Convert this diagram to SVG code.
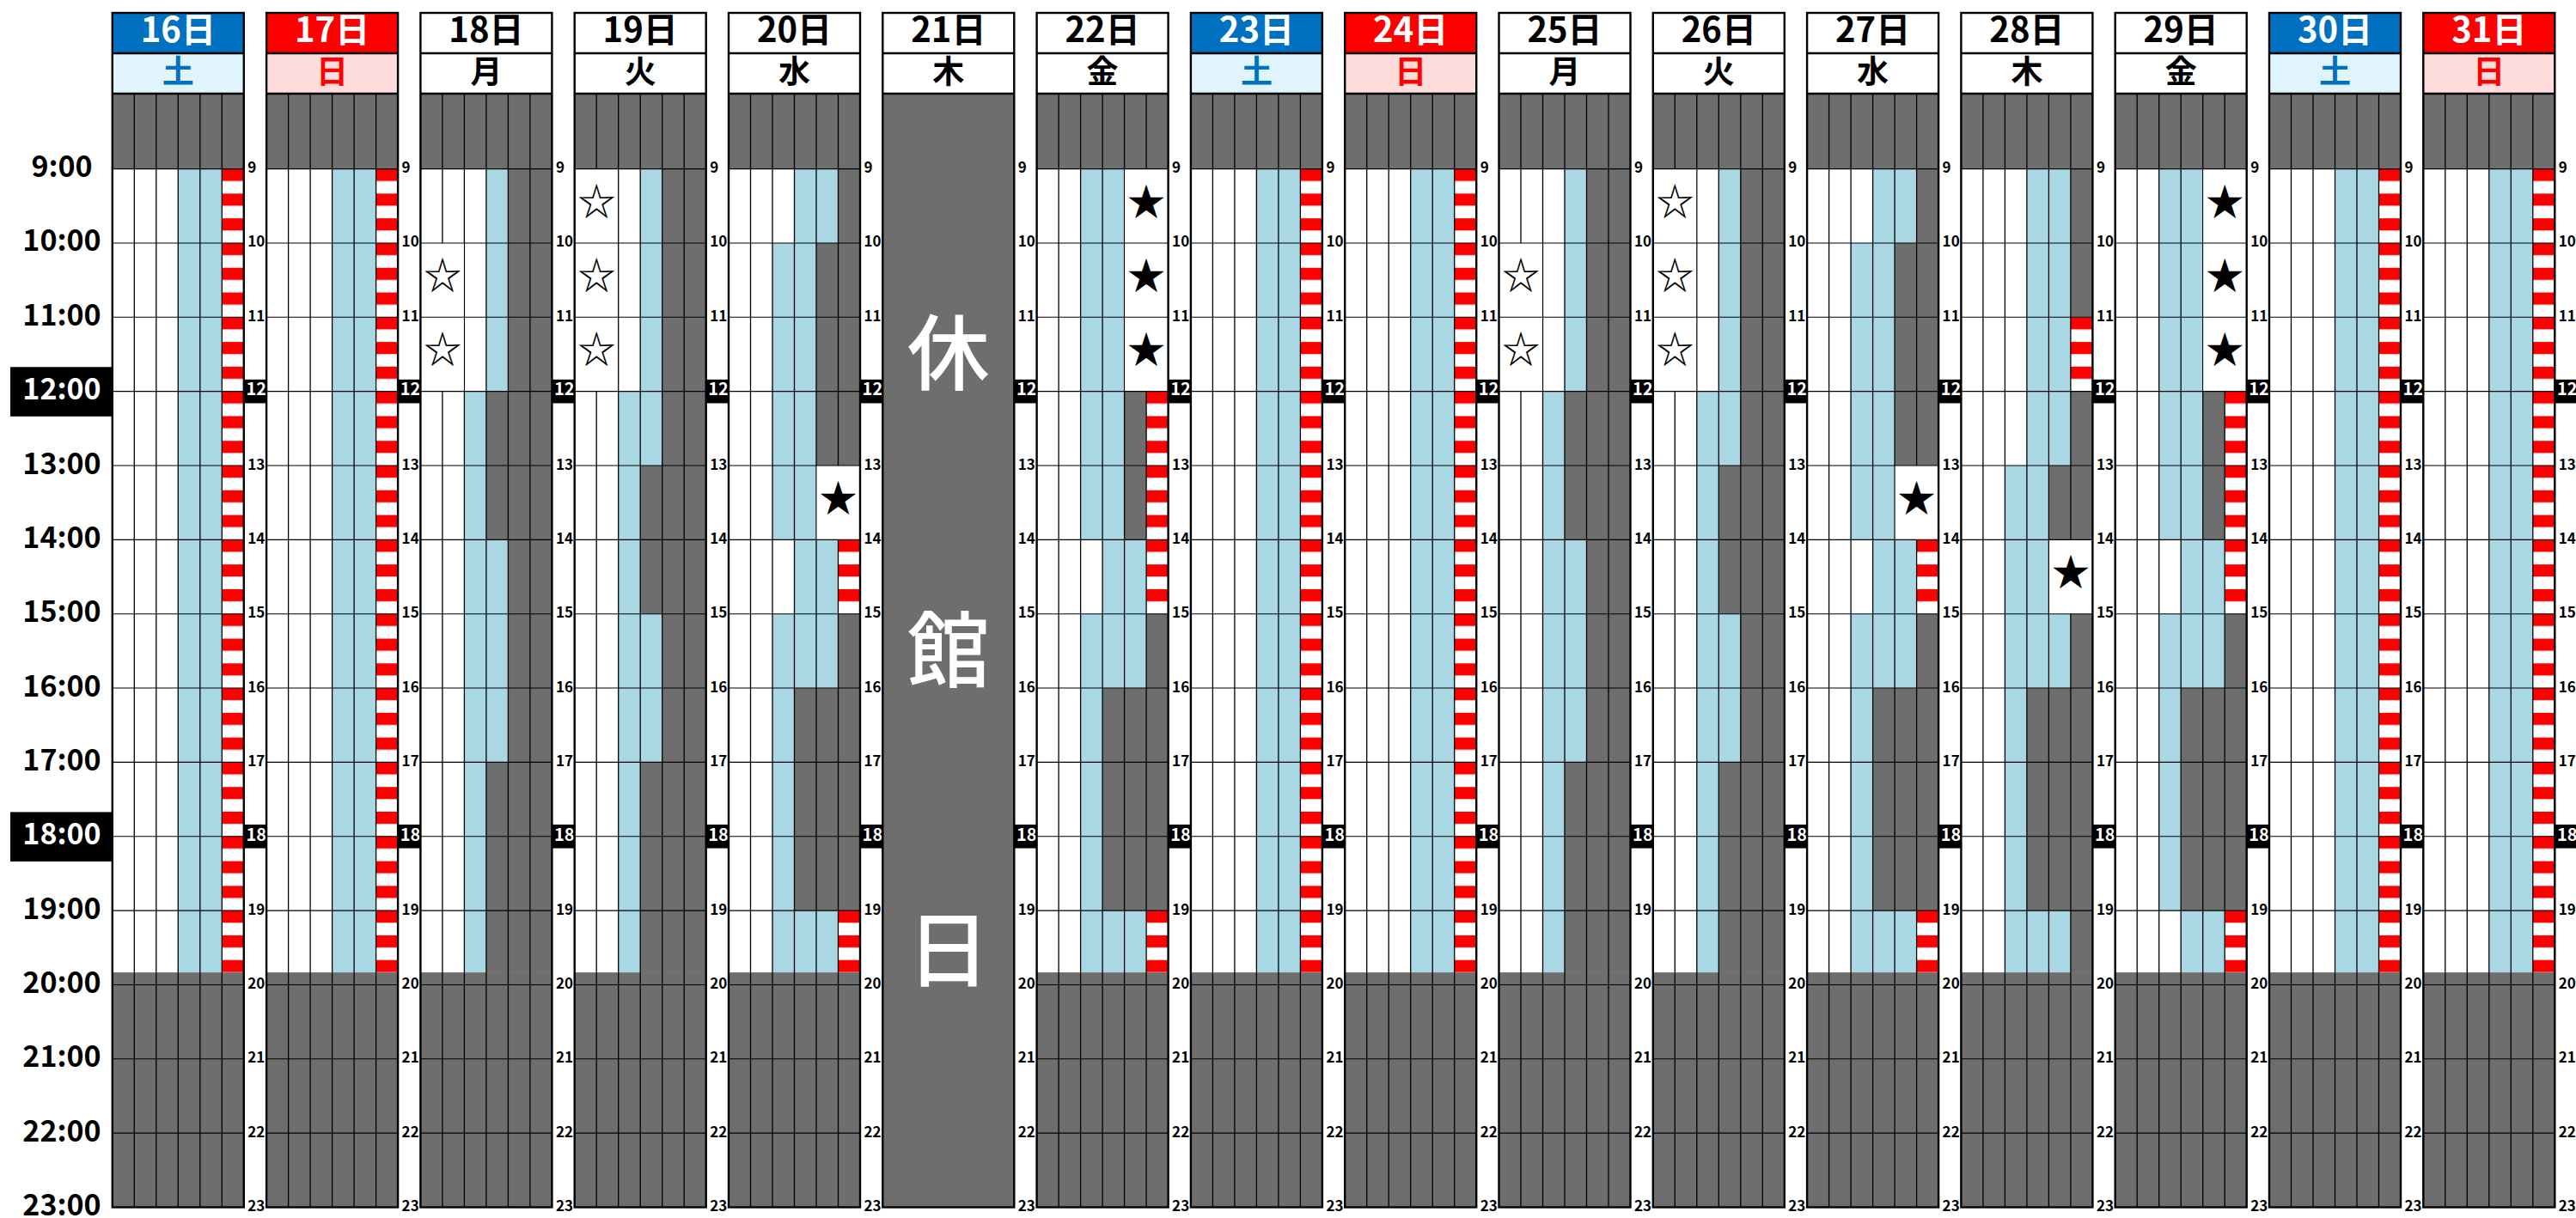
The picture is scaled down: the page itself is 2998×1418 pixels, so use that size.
<svg xmlns="http://www.w3.org/2000/svg" width="2998" height="1418" viewBox="0 0 2998 1418">
<style>
text{font-family:"Noto Sans CJK JP","Noto Sans",sans-serif}
.g{fill:#6e6e6e}.w{fill:#fff}.lb{fill:#a9d8e4}.sp{fill:url(#st)}
.vl{stroke:#000;stroke-width:1.3;fill:none}
.hl{stroke:#000;stroke-width:1.1;fill:none}
.fr{fill:none;stroke:#000;stroke-width:2.4}
.hd{font-size:40px;font-weight:700;text-anchor:middle}
.wd{font-size:37px;font-weight:700;text-anchor:middle}
.n{font-size:17px;font-weight:700;fill:#000}
.n .nb{font-size:20px;fill:#fff}
.t{font-size:34px;font-weight:700;text-anchor:middle;fill:#000}
.t .wt{fill:#fff}
.s{font-size:44px;text-anchor:middle;fill:#000}
.k{font-size:96px;font-weight:500;fill:#fff;text-anchor:middle}
.satB{fill:#0070c0}.satL{fill:#dff4fd}.sunB{fill:#ff0000}.sunL{fill:#ffdcdc}
</style>
<defs>
<pattern id="st" patternUnits="userSpaceOnUse" x="0" y="196.6" width="40" height="28.784">
<rect x="0" y="0" width="40" height="14.392" fill="#ff0000"/>
<rect x="0" y="14.392" width="40" height="14.392" fill="#ffffff"/>
</pattern>
<g id="base">
<rect class="g" x="0" y="109" width="153" height="1296.5"/>
<rect class="w" x="0" y="196.6" width="153" height="935.46"/>
</g>
<path id="vlines" class="vl" d="M25.5 109V1405.5M51 109V1405.5M76.5 109V1405.5M102 109V1405.5M127.5 109V1405.5"/>
<path id="hlines" class="hl" d="M0 196.6H153M0 282.95H153M0 369.3H153M0 455.65H153M0 542H153M0 628.35H153M0 714.7H153M0 801.05H153M0 887.4H153M0 973.75H153M0 1060.1H153M0 1146.45H153M0 1232.8H153M0 1319.15H153"/>
<g id="frame">
<rect class="fr" x="0" y="15" width="153" height="1390.5"/>
<path class="fr" d="M0 62H153M0 109H153"/>
</g>
<g id="bx">
<rect x="153" y="441.85" width="26.3" height="27.6" fill="#000"/>
<rect x="153" y="959.95" width="26.3" height="27.6" fill="#000"/>
</g>
<g id="cA">
<rect class="lb" x="76.5" y="196.6" width="51" height="935.46"/>
<rect class="sp" x="127.5" y="196.6" width="25.5" height="935.46"/>
</g>
<g id="cB">
<rect class="lb" x="76.5" y="196.6" width="25.5" height="259.05"/>
<rect class="lb" x="51" y="455.65" width="25.5" height="676.41"/>
<rect class="lb" x="76.5" y="628.35" width="25.5" height="259.05"/>
<rect class="g" x="102" y="196.6" width="51" height="935.46"/>
<rect class="g" x="76.5" y="455.65" width="25.5" height="172.7"/>
<rect class="g" x="76.5" y="887.4" width="25.5" height="244.66"/>
</g>
<rect id="rB" class="w" x="0.7" y="282.95" width="49.6" height="172.7"/>
<g id="cC">
<rect class="lb" x="76.5" y="196.6" width="25.5" height="345.4"/>
<rect class="lb" x="51" y="455.65" width="25.5" height="676.41"/>
<rect class="lb" x="76.5" y="714.7" width="25.5" height="172.7"/>
<rect class="g" x="102" y="196.6" width="51" height="935.46"/>
<rect class="g" x="76.5" y="542" width="25.5" height="172.7"/>
<rect class="g" x="76.5" y="887.4" width="25.5" height="244.66"/>
</g>
<rect id="rC" class="w" x="0.7" y="196.6" width="49.6" height="259.05"/>
<g id="cD">
<rect class="lb" x="76.5" y="196.6" width="51" height="86.35"/>
<rect class="g" x="127.5" y="196.6" width="25.5" height="86.35"/>
<rect class="lb" x="51" y="282.95" width="51" height="345.4"/>
<rect class="g" x="102" y="282.95" width="51" height="259.05"/>
<rect class="lb" x="76.5" y="628.35" width="51" height="86.35"/>
<rect class="sp" x="127.5" y="628.35" width="25.5" height="86.35"/>
<rect class="lb" x="51" y="714.7" width="76.5" height="86.35"/>
<rect class="g" x="127.5" y="714.7" width="25.5" height="345.4"/>
<rect class="lb" x="51" y="801.05" width="25.5" height="259.05"/>
<rect class="g" x="76.5" y="801.05" width="51" height="259.05"/>
<rect class="lb" x="51" y="1060.1" width="76.5" height="71.96"/>
<rect class="sp" x="127.5" y="1060.1" width="25.5" height="71.96"/>
</g>
<rect id="rD" class="w" x="102.7" y="542" width="49.6" height="86.35"/>
<g id="cE">
<rect class="lb" x="51" y="196.6" width="51" height="431.75"/>
<rect class="g" x="102" y="455.65" width="25.5" height="172.7"/>
<rect class="sp" x="127.5" y="455.65" width="25.5" height="259.05"/>
<rect class="lb" x="76.5" y="628.35" width="51" height="86.35"/>
<rect class="lb" x="51" y="714.7" width="76.5" height="86.35"/>
<rect class="g" x="127.5" y="714.7" width="25.5" height="345.4"/>
<rect class="lb" x="51" y="801.05" width="25.5" height="259.05"/>
<rect class="g" x="76.5" y="801.05" width="51" height="259.05"/>
<rect class="sp" x="127.5" y="1060.1" width="25.5" height="71.96"/>
</g>
<rect id="rE" class="w" x="102.7" y="196.6" width="49.6" height="259.05"/>
</defs>
<rect x="0" y="0" width="2998" height="1418" fill="#fff"/>

<g id="times" class="t">
<text x="72" y="206.1">9:00</text>
<text x="72" y="292.45">10:00</text>
<text x="72" y="378.8">11:00</text>
<rect x="12" y="427.3" width="118.8" height="57.5" fill="#000"/>
<text class="wt" x="72" y="465.1">12:00</text>
<text x="72" y="551.5">13:00</text>
<text x="72" y="637.85">14:00</text>
<text x="72" y="724.2">15:00</text>
<text x="72" y="810.55">16:00</text>
<text x="72" y="896.9">17:00</text>
<rect x="12" y="945.4" width="118.8" height="57.5" fill="#000"/>
<text class="wt" x="72" y="983.2">18:00</text>
<text x="72" y="1069.6">19:00</text>
<text x="72" y="1155.95">20:00</text>
<text x="72" y="1242.3">21:00</text>
<text x="72" y="1328.65">22:00</text>
<text x="72" y="1415">23:00</text>
</g>

<g id="d16" transform="translate(130.8 0)">
<use href="#base"/><use href="#cA"/><use href="#vlines"/><use href="#hlines"/>
<rect class="satB" x="0" y="15" width="153" height="47"/><rect class="satL" x="0" y="62" width="153" height="47"/>
<text class="hd" x="76.5" y="49" fill="#fff">16日</text><text class="wd" x="76.5" y="96.5" fill="#0070c0">土</text>
<use href="#frame"/><use href="#bx"/>
<g class="n"><text x="157.5" y="201.1">9</text><text x="157.5" y="287.45">10</text><text x="157.5" y="373.8">11</text><text class="nb" x="155.6" y="460.4">12</text><text x="157.5" y="546.5">13</text><text x="157.5" y="632.85">14</text><text x="157.5" y="719.2">15</text><text x="157.5" y="805.55">16</text><text x="157.5" y="891.9">17</text><text class="nb" x="155.6" y="978.5">18</text><text x="157.5" y="1064.6">19</text><text x="157.5" y="1150.95">20</text><text x="157.5" y="1237.3">21</text><text x="157.5" y="1323.65">22</text><text x="157.5" y="1410">23</text></g>
</g>

<g id="d17" transform="translate(310.1 0)">
<use href="#base"/><use href="#cA"/><use href="#vlines"/><use href="#hlines"/>
<rect class="sunB" x="0" y="15" width="153" height="47"/><rect class="sunL" x="0" y="62" width="153" height="47"/>
<text class="hd" x="76.5" y="49" fill="#fff">17日</text><text class="wd" x="76.5" y="96.5" fill="#ff0000">日</text>
<use href="#frame"/><use href="#bx"/>
<g class="n"><text x="157.5" y="201.1">9</text><text x="157.5" y="287.45">10</text><text x="157.5" y="373.8">11</text><text class="nb" x="155.6" y="460.4">12</text><text x="157.5" y="546.5">13</text><text x="157.5" y="632.85">14</text><text x="157.5" y="719.2">15</text><text x="157.5" y="805.55">16</text><text x="157.5" y="891.9">17</text><text class="nb" x="155.6" y="978.5">18</text><text x="157.5" y="1064.6">19</text><text x="157.5" y="1150.95">20</text><text x="157.5" y="1237.3">21</text><text x="157.5" y="1323.65">22</text><text x="157.5" y="1410">23</text></g>
</g>

<g id="d18" transform="translate(489.4 0)">
<use href="#base"/><use href="#cB"/><use href="#vlines"/><use href="#rB"/><use href="#hlines"/>
<g class="s"><text x="25.5" y="336.8">☆</text><text x="25.5" y="423.2">☆</text></g>
<text class="hd" x="76.5" y="49">18日</text><text class="wd" x="76.5" y="96.5">月</text>
<use href="#frame"/><use href="#bx"/>
<g class="n"><text x="157.5" y="201.1">9</text><text x="157.5" y="287.45">10</text><text x="157.5" y="373.8">11</text><text class="nb" x="155.6" y="460.4">12</text><text x="157.5" y="546.5">13</text><text x="157.5" y="632.85">14</text><text x="157.5" y="719.2">15</text><text x="157.5" y="805.55">16</text><text x="157.5" y="891.9">17</text><text class="nb" x="155.6" y="978.5">18</text><text x="157.5" y="1064.6">19</text><text x="157.5" y="1150.95">20</text><text x="157.5" y="1237.3">21</text><text x="157.5" y="1323.65">22</text><text x="157.5" y="1410">23</text></g>
</g>

<g id="d19" transform="translate(668.7 0)">
<use href="#base"/><use href="#cC"/><use href="#vlines"/><use href="#rC"/><use href="#hlines"/>
<g class="s"><text x="25.5" y="250.5">☆</text><text x="25.5" y="336.8">☆</text><text x="25.5" y="423.2">☆</text></g>
<text class="hd" x="76.5" y="49">19日</text><text class="wd" x="76.5" y="96.5">火</text>
<use href="#frame"/><use href="#bx"/>
<g class="n"><text x="157.5" y="201.1">9</text><text x="157.5" y="287.45">10</text><text x="157.5" y="373.8">11</text><text class="nb" x="155.6" y="460.4">12</text><text x="157.5" y="546.5">13</text><text x="157.5" y="632.85">14</text><text x="157.5" y="719.2">15</text><text x="157.5" y="805.55">16</text><text x="157.5" y="891.9">17</text><text class="nb" x="155.6" y="978.5">18</text><text x="157.5" y="1064.6">19</text><text x="157.5" y="1150.95">20</text><text x="157.5" y="1237.3">21</text><text x="157.5" y="1323.65">22</text><text x="157.5" y="1410">23</text></g>
</g>

<g id="d20" transform="translate(848 0)">
<use href="#base"/><use href="#cD"/><use href="#vlines"/><use href="#rD"/><use href="#hlines"/>
<g class="s"><text x="127.5" y="595.9">★</text></g>
<text class="hd" x="76.5" y="49">20日</text><text class="wd" x="76.5" y="96.5">水</text>
<use href="#frame"/><use href="#bx"/>
<g class="n"><text x="157.5" y="201.1">9</text><text x="157.5" y="287.45">10</text><text x="157.5" y="373.8">11</text><text class="nb" x="155.6" y="460.4">12</text><text x="157.5" y="546.5">13</text><text x="157.5" y="632.85">14</text><text x="157.5" y="719.2">15</text><text x="157.5" y="805.55">16</text><text x="157.5" y="891.9">17</text><text class="nb" x="155.6" y="978.5">18</text><text x="157.5" y="1064.6">19</text><text x="157.5" y="1150.95">20</text><text x="157.5" y="1237.3">21</text><text x="157.5" y="1323.65">22</text><text x="157.5" y="1410">23</text></g>
</g>

<g id="d21" transform="translate(1027.3 0)">
<rect class="g" x="0" y="109" width="153" height="1296.5"/>
<text class="k" x="76.5" y="445.5">休</text>
<text class="k" x="76.5" y="792">館</text>
<text class="k" x="76.5" y="1141">日</text>
<text class="hd" x="76.5" y="49">21日</text><text class="wd" x="76.5" y="96.5">木</text>
<use href="#frame"/><use href="#bx"/>
<g class="n"><text x="157.5" y="201.1">9</text><text x="157.5" y="287.45">10</text><text x="157.5" y="373.8">11</text><text class="nb" x="155.6" y="460.4">12</text><text x="157.5" y="546.5">13</text><text x="157.5" y="632.85">14</text><text x="157.5" y="719.2">15</text><text x="157.5" y="805.55">16</text><text x="157.5" y="891.9">17</text><text class="nb" x="155.6" y="978.5">18</text><text x="157.5" y="1064.6">19</text><text x="157.5" y="1150.95">20</text><text x="157.5" y="1237.3">21</text><text x="157.5" y="1323.65">22</text><text x="157.5" y="1410">23</text></g>
</g>

<g id="d22" transform="translate(1206.6 0)">
<use href="#base"/><use href="#cE"/><rect class="lb" x="51" y="1060.1" width="76.5" height="71.96"/><use href="#vlines"/><use href="#rE"/><use href="#hlines"/>
<g class="s"><text x="127.5" y="250.5">★</text><text x="127.5" y="336.8">★</text><text x="127.5" y="423.2">★</text></g>
<text class="hd" x="76.5" y="49">22日</text><text class="wd" x="76.5" y="96.5">金</text>
<use href="#frame"/><use href="#bx"/>
<g class="n"><text x="157.5" y="201.1">9</text><text x="157.5" y="287.45">10</text><text x="157.5" y="373.8">11</text><text class="nb" x="155.6" y="460.4">12</text><text x="157.5" y="546.5">13</text><text x="157.5" y="632.85">14</text><text x="157.5" y="719.2">15</text><text x="157.5" y="805.55">16</text><text x="157.5" y="891.9">17</text><text class="nb" x="155.6" y="978.5">18</text><text x="157.5" y="1064.6">19</text><text x="157.5" y="1150.95">20</text><text x="157.5" y="1237.3">21</text><text x="157.5" y="1323.65">22</text><text x="157.5" y="1410">23</text></g>
</g>

<g id="d23" transform="translate(1385.9 0)">
<use href="#base"/><use href="#cA"/><use href="#vlines"/><use href="#hlines"/>
<rect class="satB" x="0" y="15" width="153" height="47"/><rect class="satL" x="0" y="62" width="153" height="47"/>
<text class="hd" x="76.5" y="49" fill="#fff">23日</text><text class="wd" x="76.5" y="96.5" fill="#0070c0">土</text>
<use href="#frame"/><use href="#bx"/>
<g class="n"><text x="157.5" y="201.1">9</text><text x="157.5" y="287.45">10</text><text x="157.5" y="373.8">11</text><text class="nb" x="155.6" y="460.4">12</text><text x="157.5" y="546.5">13</text><text x="157.5" y="632.85">14</text><text x="157.5" y="719.2">15</text><text x="157.5" y="805.55">16</text><text x="157.5" y="891.9">17</text><text class="nb" x="155.6" y="978.5">18</text><text x="157.5" y="1064.6">19</text><text x="157.5" y="1150.95">20</text><text x="157.5" y="1237.3">21</text><text x="157.5" y="1323.65">22</text><text x="157.5" y="1410">23</text></g>
</g>

<g id="d24" transform="translate(1565.2 0)">
<use href="#base"/><use href="#cA"/><use href="#vlines"/><use href="#hlines"/>
<rect class="sunB" x="0" y="15" width="153" height="47"/><rect class="sunL" x="0" y="62" width="153" height="47"/>
<text class="hd" x="76.5" y="49" fill="#fff">24日</text><text class="wd" x="76.5" y="96.5" fill="#ff0000">日</text>
<use href="#frame"/><use href="#bx"/>
<g class="n"><text x="157.5" y="201.1">9</text><text x="157.5" y="287.45">10</text><text x="157.5" y="373.8">11</text><text class="nb" x="155.6" y="460.4">12</text><text x="157.5" y="546.5">13</text><text x="157.5" y="632.85">14</text><text x="157.5" y="719.2">15</text><text x="157.5" y="805.55">16</text><text x="157.5" y="891.9">17</text><text class="nb" x="155.6" y="978.5">18</text><text x="157.5" y="1064.6">19</text><text x="157.5" y="1150.95">20</text><text x="157.5" y="1237.3">21</text><text x="157.5" y="1323.65">22</text><text x="157.5" y="1410">23</text></g>
</g>

<g id="d25" transform="translate(1744.5 0)">
<use href="#base"/><use href="#cB"/><use href="#vlines"/><use href="#rB"/><use href="#hlines"/>
<g class="s"><text x="25.5" y="336.8">☆</text><text x="25.5" y="423.2">☆</text></g>
<text class="hd" x="76.5" y="49">25日</text><text class="wd" x="76.5" y="96.5">月</text>
<use href="#frame"/><use href="#bx"/>
<g class="n"><text x="157.5" y="201.1">9</text><text x="157.5" y="287.45">10</text><text x="157.5" y="373.8">11</text><text class="nb" x="155.6" y="460.4">12</text><text x="157.5" y="546.5">13</text><text x="157.5" y="632.85">14</text><text x="157.5" y="719.2">15</text><text x="157.5" y="805.55">16</text><text x="157.5" y="891.9">17</text><text class="nb" x="155.6" y="978.5">18</text><text x="157.5" y="1064.6">19</text><text x="157.5" y="1150.95">20</text><text x="157.5" y="1237.3">21</text><text x="157.5" y="1323.65">22</text><text x="157.5" y="1410">23</text></g>
</g>

<g id="d26" transform="translate(1923.8 0)">
<use href="#base"/><use href="#cC"/><use href="#vlines"/><use href="#rC"/><use href="#hlines"/>
<g class="s"><text x="25.5" y="250.5">☆</text><text x="25.5" y="336.8">☆</text><text x="25.5" y="423.2">☆</text></g>
<text class="hd" x="76.5" y="49">26日</text><text class="wd" x="76.5" y="96.5">火</text>
<use href="#frame"/><use href="#bx"/>
<g class="n"><text x="157.5" y="201.1">9</text><text x="157.5" y="287.45">10</text><text x="157.5" y="373.8">11</text><text class="nb" x="155.6" y="460.4">12</text><text x="157.5" y="546.5">13</text><text x="157.5" y="632.85">14</text><text x="157.5" y="719.2">15</text><text x="157.5" y="805.55">16</text><text x="157.5" y="891.9">17</text><text class="nb" x="155.6" y="978.5">18</text><text x="157.5" y="1064.6">19</text><text x="157.5" y="1150.95">20</text><text x="157.5" y="1237.3">21</text><text x="157.5" y="1323.65">22</text><text x="157.5" y="1410">23</text></g>
</g>

<g id="d27" transform="translate(2103.1 0)">
<use href="#base"/><use href="#cD"/><use href="#vlines"/><use href="#rD"/><use href="#hlines"/>
<g class="s"><text x="127.5" y="595.9">★</text></g>
<text class="hd" x="76.5" y="49">27日</text><text class="wd" x="76.5" y="96.5">水</text>
<use href="#frame"/><use href="#bx"/>
<g class="n"><text x="157.5" y="201.1">9</text><text x="157.5" y="287.45">10</text><text x="157.5" y="373.8">11</text><text class="nb" x="155.6" y="460.4">12</text><text x="157.5" y="546.5">13</text><text x="157.5" y="632.85">14</text><text x="157.5" y="719.2">15</text><text x="157.5" y="805.55">16</text><text x="157.5" y="891.9">17</text><text class="nb" x="155.6" y="978.5">18</text><text x="157.5" y="1064.6">19</text><text x="157.5" y="1150.95">20</text><text x="157.5" y="1237.3">21</text><text x="157.5" y="1323.65">22</text><text x="157.5" y="1410">23</text></g>
</g>

<g id="d28" transform="translate(2282.4 0)">
<use href="#base"/>
<rect class="lb" x="76.5" y="196.6" width="51" height="345.4"/>
<rect class="g" x="127.5" y="196.6" width="25.5" height="172.7"/>
<rect class="sp" x="127.5" y="369.3" width="25.5" height="86.35"/>
<rect class="g" x="127.5" y="455.65" width="25.5" height="86.35"/>
<rect class="lb" x="51" y="542" width="51" height="172.7"/>
<rect class="g" x="102" y="542" width="51" height="86.35"/>
<rect class="lb" x="51" y="714.7" width="76.5" height="86.35"/>
<rect class="g" x="127.5" y="714.7" width="25.5" height="417.36"/>
<rect class="lb" x="51" y="801.05" width="25.5" height="259.05"/>
<rect class="g" x="76.5" y="801.05" width="51" height="259.05"/>
<rect class="lb" x="51" y="1060.1" width="76.5" height="71.96"/>
<use href="#vlines"/>
<rect class="w" x="102.7" y="628.35" width="49.6" height="86.35"/>
<use href="#hlines"/>
<g class="s"><text x="127.5" y="682.2">★</text></g>
<text class="hd" x="76.5" y="49">28日</text><text class="wd" x="76.5" y="96.5">木</text>
<use href="#frame"/><use href="#bx"/>
<g class="n"><text x="157.5" y="201.1">9</text><text x="157.5" y="287.45">10</text><text x="157.5" y="373.8">11</text><text class="nb" x="155.6" y="460.4">12</text><text x="157.5" y="546.5">13</text><text x="157.5" y="632.85">14</text><text x="157.5" y="719.2">15</text><text x="157.5" y="805.55">16</text><text x="157.5" y="891.9">17</text><text class="nb" x="155.6" y="978.5">18</text><text x="157.5" y="1064.6">19</text><text x="157.5" y="1150.95">20</text><text x="157.5" y="1237.3">21</text><text x="157.5" y="1323.65">22</text><text x="157.5" y="1410">23</text></g>
</g>

<g id="d29" transform="translate(2461.7 0)">
<use href="#base"/><use href="#cE"/><rect class="lb" x="76.5" y="1060.1" width="51" height="71.96"/><use href="#vlines"/><use href="#rE"/><use href="#hlines"/>
<g class="s"><text x="127.5" y="250.5">★</text><text x="127.5" y="336.8">★</text><text x="127.5" y="423.2">★</text></g>
<text class="hd" x="76.5" y="49">29日</text><text class="wd" x="76.5" y="96.5">金</text>
<use href="#frame"/><use href="#bx"/>
<g class="n"><text x="157.5" y="201.1">9</text><text x="157.5" y="287.45">10</text><text x="157.5" y="373.8">11</text><text class="nb" x="155.6" y="460.4">12</text><text x="157.5" y="546.5">13</text><text x="157.5" y="632.85">14</text><text x="157.5" y="719.2">15</text><text x="157.5" y="805.55">16</text><text x="157.5" y="891.9">17</text><text class="nb" x="155.6" y="978.5">18</text><text x="157.5" y="1064.6">19</text><text x="157.5" y="1150.95">20</text><text x="157.5" y="1237.3">21</text><text x="157.5" y="1323.65">22</text><text x="157.5" y="1410">23</text></g>
</g>

<g id="d30" transform="translate(2641 0)">
<use href="#base"/><use href="#cA"/><use href="#vlines"/><use href="#hlines"/>
<rect class="satB" x="0" y="15" width="153" height="47"/><rect class="satL" x="0" y="62" width="153" height="47"/>
<text class="hd" x="76.5" y="49" fill="#fff">30日</text><text class="wd" x="76.5" y="96.5" fill="#0070c0">土</text>
<use href="#frame"/><use href="#bx"/>
<g class="n"><text x="157.5" y="201.1">9</text><text x="157.5" y="287.45">10</text><text x="157.5" y="373.8">11</text><text class="nb" x="155.6" y="460.4">12</text><text x="157.5" y="546.5">13</text><text x="157.5" y="632.85">14</text><text x="157.5" y="719.2">15</text><text x="157.5" y="805.55">16</text><text x="157.5" y="891.9">17</text><text class="nb" x="155.6" y="978.5">18</text><text x="157.5" y="1064.6">19</text><text x="157.5" y="1150.95">20</text><text x="157.5" y="1237.3">21</text><text x="157.5" y="1323.65">22</text><text x="157.5" y="1410">23</text></g>
</g>

<g id="d31" transform="translate(2820.3 0)">
<use href="#base"/><use href="#cA"/><use href="#vlines"/><use href="#hlines"/>
<rect class="sunB" x="0" y="15" width="153" height="47"/><rect class="sunL" x="0" y="62" width="153" height="47"/>
<text class="hd" x="76.5" y="49" fill="#fff">31日</text><text class="wd" x="76.5" y="96.5" fill="#ff0000">日</text>
<use href="#frame"/><use href="#bx"/>
<g class="n"><text x="157.5" y="201.1">9</text><text x="157.5" y="287.45">10</text><text x="157.5" y="373.8">11</text><text class="nb" x="155.6" y="460.4">12</text><text x="157.5" y="546.5">13</text><text x="157.5" y="632.85">14</text><text x="157.5" y="719.2">15</text><text x="157.5" y="805.55">16</text><text x="157.5" y="891.9">17</text><text class="nb" x="155.6" y="978.5">18</text><text x="157.5" y="1064.6">19</text><text x="157.5" y="1150.95">20</text><text x="157.5" y="1237.3">21</text><text x="157.5" y="1323.65">22</text><text x="157.5" y="1410">23</text></g>
</g>

<g id="connectors"></g>
</svg>
